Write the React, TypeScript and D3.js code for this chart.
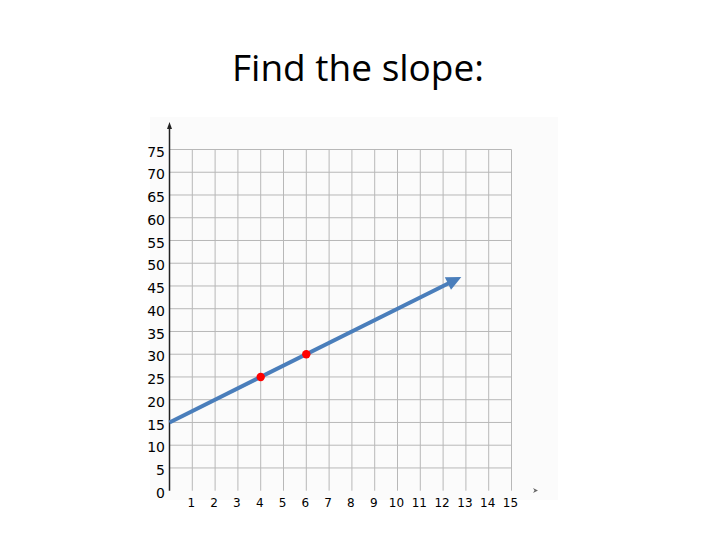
import React from "react";
import * as d3 from "d3";

const title = "Find the slope:";
const xTicks = [1, 2, 3, 4, 5, 6, 7, 8, 9, 10, 11, 12, 13, 14, 15];
const yTicks = [0, 5, 10, 15, 20, 25, 30, 35, 40, 45, 50, 55, 60, 65, 70, 75];
const lineX = [0, 12.8];
const intercept = 15;
const slope = 2.5;
const pointsX = [4, 6];
const pointsY = [25, 30];

export default function App() {
  const W = 720;
  const H = 540;
  const x = d3.scaleLinear().domain([0, 15]).range([169.5, 511.5]);
  const y = d3.scaleLinear().domain([0, 75]).range([490.7, 149.5]);

  const x0 = x(lineX[0]);
  const y0 = y(intercept + slope * lineX[0]);
  const x1 = x(lineX[1]);
  const y1 = y(intercept + slope * lineX[1]);
  const ang = Math.atan2(y1 - y0, x1 - x0);
  const headLen = 15;
  const headW = 7;
  const bx = x1 - headLen * Math.cos(ang);
  const by = y1 - headLen * Math.sin(ang);
  const px = -Math.sin(ang);
  const py = Math.cos(ang);
  const head = [
    [x1, y1],
    [bx + headW * px, by + headW * py],
    [bx - headW * px, by - headW * py],
  ];
  const lineGen = d3.line();

  return (
    <svg
      width={W}
      height={H}
      style={{ position: "absolute", left: 0, top: 0, background: "#ffffff" }}
    >
      <rect x={150} y={117} width={408} height={383} fill="#fbfbfb" />
      <text
        x={358}
        y={81}
        textAnchor="middle"
        fontFamily="'Open Sans', sans-serif"
        fontSize={37}
        fill="#000"
      >
        {title}
      </text>
      {/* horizontal gridlines */}
      {yTicks
        .filter((t) => t > 0)
        .map((t) => (
          <line
            key={"h" + t}
            x1={x(0)}
            x2={x(15)}
            y1={y(t)}
            y2={y(t)}
            stroke="#b8b8b8"
            strokeWidth={1}
          />
        ))}
      {/* vertical gridlines */}
      {xTicks.map((t) => (
        <line
          key={"v" + t}
          x1={x(t)}
          x2={x(t)}
          y1={y(75)}
          y2={y(0)}
          stroke="#b8b8b8"
          strokeWidth={1}
        />
      ))}
      {/* y axis */}
      <line x1={x(0)} x2={x(0)} y1={y(0)} y2={126} stroke="#222" strokeWidth={1.5} />
      <path
        d={`M${x(0)},122 L${x(0) - 2.5},129 L${x(0) + 2.5},129 Z`}
        fill="#222"
      />
      {/* x axis arrow marker */}
      <path d={`M538,490.5 L533,488 L534.5,490.5 L533,493 Z`} fill="#666" />
      {/* y labels */}
      {yTicks.map((t) => (
        <text
          key={"yl" + t}
          x={165}
          y={y(t) + 7.2}
          textAnchor="end"
          fontFamily="'DejaVu Sans', sans-serif"
          fontSize={14}
          fill="#000"
        >
          {t}
        </text>
      ))}
      {/* x labels */}
      {xTicks.map((t) => (
        <text
          key={"xl" + t}
          x={x(t) - 1}
          y={507}
          textAnchor="middle"
          fontFamily="'DejaVu Sans', sans-serif"
          fontSize={12}
          fill="#000"
        >
          {t}
        </text>
      ))}
      {/* line with arrow */}
      <path
        d={lineGen([
          [x0, y0],
          [bx + 2 * Math.cos(ang), by + 2 * Math.sin(ang)],
        ]) as string}
        stroke="#4a7ebb"
        strokeWidth={4}
        fill="none"
      />
      <path d={lineGen(head as [number, number][]) + "Z"} fill="#4a7ebb" />
      {/* points */}
      {pointsX.map((px2, i) => (
        <circle key={"p" + i} cx={x(px2)} cy={y(pointsY[i])} r={4.2} fill="#ff0000" />
      ))}
    </svg>
  );
}
